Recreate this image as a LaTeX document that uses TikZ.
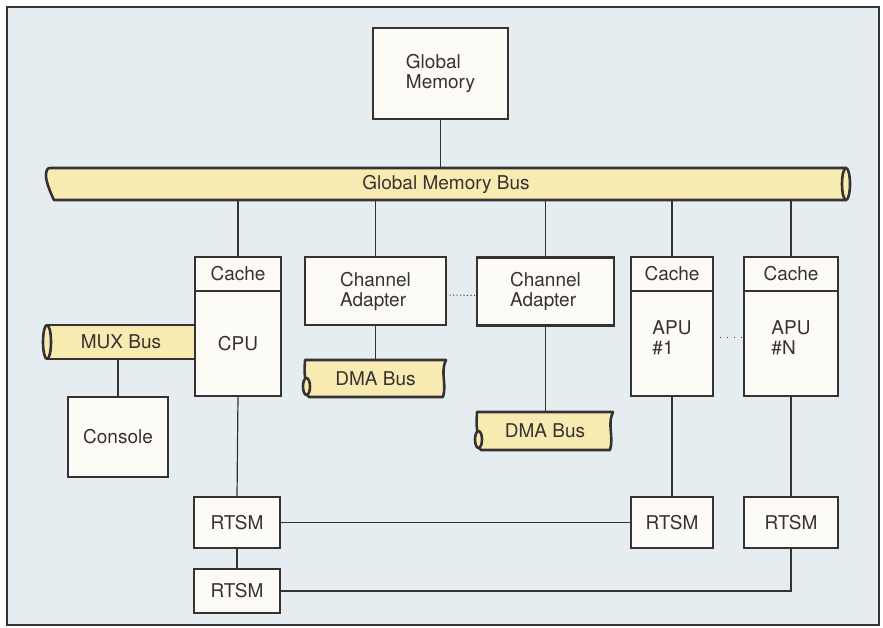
\documentclass[tikz,border=0pt]{standalone}
\usepackage{fontspec}
\setmainfont{TeX Gyre Heros}
\usetikzlibrary{calc,positioning,backgrounds}
\definecolor{panel}{RGB}{229,237,241}
\definecolor{paper}{RGB}{252,251,245}
\definecolor{busfill}{RGB}{248,235,178}
\definecolor{ink}{RGB}{55,50,50}
\tikzset{
  unit/.style={
    draw=ink,
    line width=2.6pt,
    fill=paper,
    text=ink,
    font=\fontsize{19}{20}\selectfont,
    align=left,
    inner sep=0pt,
    outer sep=0pt,
    minimum width=86,
    minimum height=34
  },
  bus/.style={
    text=ink,
    font=\fontsize{19}{20}\selectfont,
    inner sep=0pt,
    outer sep=0pt
  },
  busline/.style={
    draw=ink,
    line width=2.6pt,
    fill=busfill,
    line join=round
  },
  link/.style={
    draw=ink,
    line width=1.2pt
  }
}
% cut pipe with a small hole on the left
\newcommand{\dmapipe}[1]{
  \path[busline] (#1.north west) -- (#1.north east)
    .. controls +(-6,12) and +(4,-13) .. ($(#1.south east)+(-3,0)$)
    -- ($(#1.south west)+(4,0)$)
    .. controls +(-5,-4) and +(1,6) .. ($(#1.west)+(0,-2)$)
    .. controls +(-1,-6) and +(0,4) .. (#1.north west) -- cycle;
  \path[busline] ($(#1.south west)+(1.5,-10.5)$) ellipse [x radius=3.5, y radius=8.5];
}

\begin{document}
\begin{tikzpicture}[x=1pt, y=-1pt]
\useasboundingbox (0,0) rectangle (883,628);

% memory and bus
\node[unit, minimum width=135, minimum height=91] (gm) at (440.5,73.5) {Global\\Memory};
\node[bus, minimum width=800, minimum height=32] (gbus) at (446,184) {Global Memory Bus};

% processors
\node[unit] (cache1) at (238,274) {Cache};
\node[unit, minimum height=105, below=0pt of cache1] (cpu) {CPU};
\node[unit, minimum width=141, minimum height=68] (ca1) at (375.5,291) {Channel\\Adapter};
\node[unit, minimum width=137, minimum height=68] (ca2) at (545.5,291.5) {Channel\\Adapter};
\node[unit, minimum width=82] (cache2) at (672,274) {Cache};
\node[unit, minimum width=82, minimum height=105, below=0pt of cache2] (apu1) {APU\\\#1\\[-8pt]};
\node[unit, minimum width=94] (cache3) at (791,274) {Cache};
\node[unit, minimum width=94, minimum height=105, below=0pt of cache3] (apun) {APU\\\#N\\[-8pt]};

% side buses
\node[bus, minimum width=148, minimum height=34] (mux) at (121,342) {MUX Bus};
\node[unit, minimum width=100, minimum height=80] (console) at (118,437) {Console};
\node[bus, minimum width=141, minimum height=37] (dma1) at (375.5,378.5) {DMA Bus};
\node[bus, minimum width=136, minimum height=38] (dma2) at (545,431) {DMA Bus};

% RTSM row
\node[unit, minimum height=51] (rt1) at (237,522.5) {RTSM};
\node[unit, minimum height=44] (rt2) at (237,591) {RTSM};
\node[unit, minimum width=82, minimum height=51] (rta) at (672,522.5) {RTSM};
\node[unit, minimum width=94, minimum height=51] (rtn) at (791,522.5) {RTSM};

\begin{scope}[on background layer]
  \draw[draw=ink, line width=2pt, fill=panel] (7,7) rectangle (879,625);
  \path[busline] ($(gbus.north west)+(4,0)$) -- (gbus.north east) -- (gbus.south east)
    -- ($(gbus.south west)+(8,0)$)
    .. controls +(-3,-6) and +(0,6) .. ($(gbus.west)+(0,-8)$)
    .. controls +(0,-5) and +(-3,0) .. ($(gbus.north west)+(4,0)$) -- cycle;
  \path[busline] (gbus.east) ellipse [x radius=4, y radius=16];
  \path[busline] (mux.north west) rectangle (mux.south east);
  \path[busline] (mux.west) ellipse [x radius=4, y radius=17];
  \dmapipe{dma1}
  \dmapipe{dma2}
\end{scope}

\draw[link] (gm.south) -- (gm.south |- gbus.north);
\foreach \n in {cache1,ca1,ca2,cache2,cache3}
  \draw[link] (\n.north |- gbus.south) -- (\n.north);
\draw[link] (mux.south -| console.north) -- (console.north);
\draw[link] (ca1.south) -- (ca1.south |- dma1.north);
\draw[link] (ca2.south) -- (ca2.south |- dma2.north);
\draw[link] (cpu.south) -- (rt1.north);
\draw[link] (rt1.south) -- (rt2.north);
\draw[link] (rt1.east) -- (rta.west);
\draw[link] (apu1.south) -- (rta.north);
\draw[link] (apun.south) -- (rtn.north);
\draw[link] (rt2.east) -| (rtn.south);
\draw[link, line width=1pt, dash pattern=on 1pt off 2.5pt] ([yshift=-4pt]ca1.east) -- ([yshift=-4pt]ca2.west);
\draw[link, line width=1pt, dash pattern=on 1pt off 6pt] ([yshift=6pt]apu1.east) -- ([yshift=6pt]apun.west);
\end{tikzpicture}
\end{document}
